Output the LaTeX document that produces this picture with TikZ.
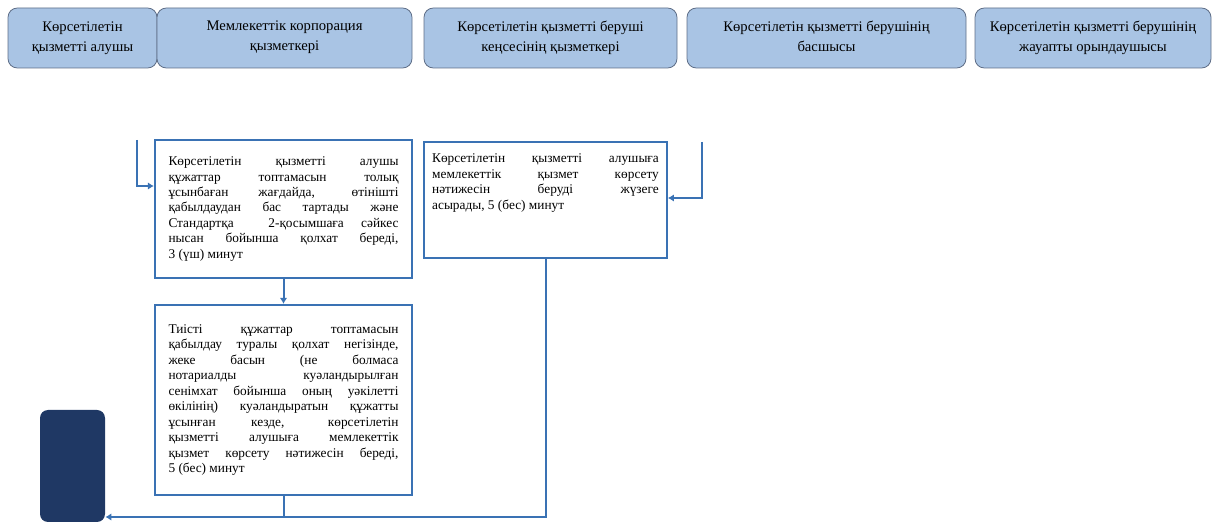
\documentclass[tikz,border=0pt]{standalone}
\usepackage{fontspec}
\setmainfont{Liberation Serif}
\definecolor{headfill}{RGB}{169, 196, 228}
\definecolor{headline}{RGB}{95, 110, 135}
\definecolor{flowblue}{RGB}{58, 114, 180}
\definecolor{navy1}{RGB}{31, 56, 100}
\usetikzlibrary{arrows.meta, positioning}
\hyphenpenalty=10000
\exhyphenpenalty=10000

\begin{document}
\begin{tikzpicture}[x=0.75pt, y=-0.75pt,
  head/.style={draw=headline, fill=headfill, rounded corners=7pt, minimum height=45pt, inner sep=2pt, align=center, line width=0.6pt, font=\fontsize{11}{15}\selectfont},
  stepbox/.style={draw=flowblue, line width=1.6pt, align=justify, inner ysep=0pt, font=\fontsize{10}{11.6}\selectfont},
  flow/.style={draw=flowblue, line width=1.5pt, -{Latex[length=4.5pt, width=5.5pt]}},
  joinline/.style={draw=flowblue, line width=1.5pt}]
  \useasboundingbox (0, 0) rectangle (1214, 523);

  % Swimlane heads
  \node[head, minimum width=111.75pt] (recipient) at (82.5, 38) {Көрсетілетін\\қызметті алушы\rule[-2pt]{0pt}{0pt}};
  \node[head, minimum width=191.25pt] (corpstaff) at (284.5, 38) {Мемлекеттік корпорация\\қызметкері\rule[-3pt]{0pt}{0pt}};
  \node[head, minimum width=189.75pt] (officestaff) at (550.5, 38) {Көрсетілетін қызметті беруші\\кеңсесінің қызметкері\rule[-3pt]{0pt}{0pt}};
  \node[head, minimum width=209.25pt] (chief) at (826.5, 38) {Көрсетілетін қызметті берушінің\\басшысы\rule[-3pt]{0pt}{0pt}};
  \node[head, minimum width=177pt] (executor) at (1093, 38) {Көрсетілетін қызметті берушінің\\жауапты орындаушысы\rule[-3pt]{0pt}{0pt}};

  % Steps
  \node[stepbox, text width=172.5pt, inner xsep=10.1pt, minimum height=103.5pt] (stepa) at (283.5, 209) {
    Көрсетілетін қызметті алушы\linebreak
    құжаттар топтамасын толық\linebreak
    ұсынбаған жағдайда, өтінішті\linebreak
    қабылдаудан бас тартады және\linebreak
    Стандартқа~~2-қосымшаға сәйкес\linebreak
    нысан бойынша қолхат береді,\linebreak
    3 (үш) минут
  };
  \node[stepbox, text width=172.5pt, inner xsep=10.1pt, minimum height=142.5pt] (stepb) at (283.5, 400) {
    Тиісті құжаттар топтамасын\linebreak
    қабылдау туралы қолхат негізінде,\linebreak
    жеке басын (не болмаса\linebreak
    нотариалды куәландырылған\linebreak
    сенімхат бойынша оның уәкілетті\linebreak
    өкілінің) куәландыратын құжатты\linebreak
    ұсынған кезде, көрсетілетін\linebreak
    қызметті алушыға мемлекеттік\linebreak
    қызмет көрсету нәтижесін береді,\linebreak
    5 (бес) минут
  };
  \node[stepbox, inner xsep=6pt, inner ysep=9pt] (stepc) at (545.5, 200) {%
    \begin{minipage}[t][69pt][t]{170pt}
    Көрсетілетін қызметті алушыға\linebreak
    мемлекеттік қызмет көрсету\linebreak
    нәтижесін беруді жүзеге\linebreak
    асырады, 5 (бес) минут
    \end{minipage}};

  % End
  \node[fill=navy1, rounded corners=6pt, minimum width=48.75pt, minimum height=84pt, inner sep=0pt] (finish) at (72.5, 466) {};

  % Connectors
  \coordinate (inA) at (137, 140);
  \coordinate (inC) at (702, 142);
  \coordinate (merge) at (283.5, 517);
  \draw[flow] (inA) |- ([yshift=17.25pt]stepa.west);
  \draw[flow] (stepa.south) -- (stepb.north);
  \draw[flow] (inC) |- ([yshift=1.5pt]stepc.east);
  \draw[flow] (stepc.south) |- ([yshift=-38.25pt]finish.east);
  \draw[joinline] (stepb.south) -- (merge);
\end{tikzpicture}
\end{document}
